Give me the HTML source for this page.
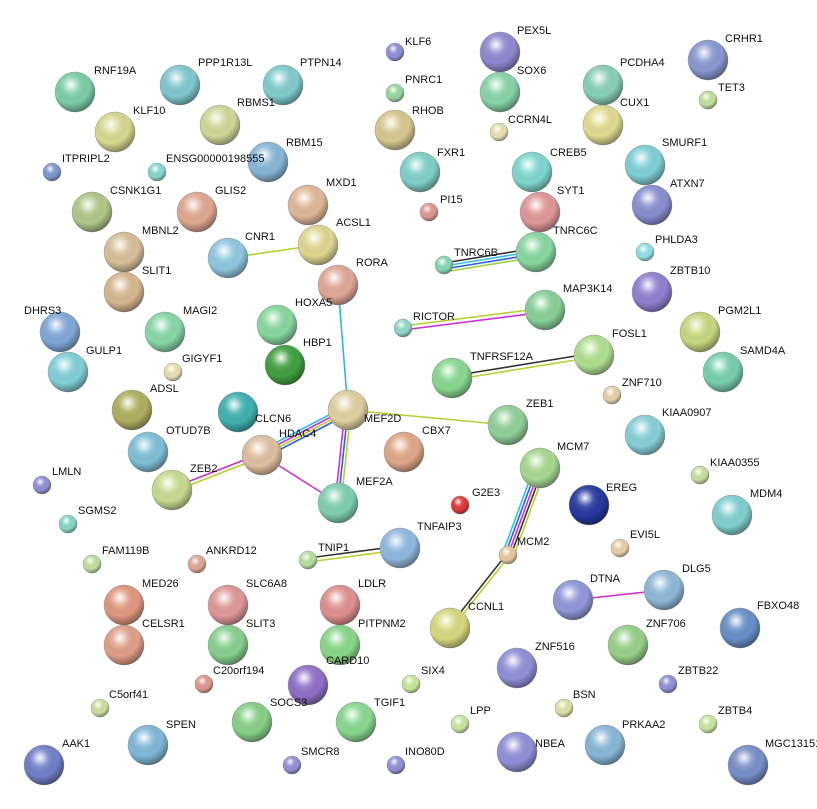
<!DOCTYPE html>
<html><head><meta charset="utf-8"><style>
html,body{margin:0;padding:0;background:#fff}
svg{display:block}
text{font-family:"Liberation Sans",Arial,sans-serif;font-size:11px;fill:#111}
</style></head><body>
<svg width="817" height="809" viewBox="0 0 817 809" xmlns="http://www.w3.org/2000/svg">
<defs>
<radialGradient id="sh" cx="40%" cy="32%" r="70%">
<stop offset="0" stop-color="#fff" stop-opacity="0.95"/>
<stop offset="0.3" stop-color="#fff" stop-opacity="0.15"/>
<stop offset="0.65" stop-color="#000" stop-opacity="0"/>
<stop offset="1" stop-color="#000" stop-opacity="0.4"/>
</radialGradient>
</defs>
<g stroke-width="1.6" fill="none">
<line x1="228" y1="258" x2="318" y2="245" stroke="#b8d030"/>
<line x1="338" y1="285" x2="348" y2="410" stroke="#30b8d0"/>
<line x1="444" y1="263" x2="536" y2="248" stroke="#333"/>
<line x1="444" y1="266" x2="536" y2="251" stroke="#30c0e0"/>
<line x1="444" y1="269" x2="536" y2="254" stroke="#3060e0"/>
<line x1="444" y1="272" x2="536" y2="257" stroke="#a0d040"/>
<line x1="403" y1="326" x2="545" y2="308" stroke="#b8d030"/>
<line x1="403" y1="330" x2="545" y2="312" stroke="#d030d0"/>
<line x1="452" y1="376" x2="594" y2="353" stroke="#333"/>
<line x1="452" y1="380" x2="594" y2="357" stroke="#b8d030"/>
<line x1="348" y1="410" x2="508" y2="425" stroke="#b8d030"/>
<line x1="348" y1="405" x2="262" y2="450" stroke="#30c0e0"/>
<line x1="348" y1="408" x2="262" y2="453" stroke="#d030d0"/>
<line x1="348" y1="411" x2="262" y2="456" stroke="#b8d030"/>
<line x1="348" y1="414" x2="262" y2="459" stroke="#3060e0"/>
<line x1="345" y1="410" x2="335" y2="503" stroke="#d030d0"/>
<line x1="348" y1="410" x2="338" y2="503" stroke="#3060e0"/>
<line x1="351" y1="410" x2="341" y2="503" stroke="#b8d030"/>
<line x1="262" y1="453" x2="172" y2="488" stroke="#d030d0"/>
<line x1="262" y1="457" x2="172" y2="492" stroke="#b8d030"/>
<line x1="262" y1="455" x2="338" y2="503" stroke="#d030d0"/>
<line x1="308" y1="558" x2="400" y2="546" stroke="#333"/>
<line x1="308" y1="562" x2="400" y2="550" stroke="#b8d030"/>
<line x1="534" y1="468" x2="502" y2="555" stroke="#30c0e0"/>
<line x1="537" y1="468" x2="505" y2="555" stroke="#3060e0"/>
<line x1="540" y1="468" x2="508" y2="555" stroke="#d030d0"/>
<line x1="543" y1="468" x2="511" y2="555" stroke="#333"/>
<line x1="546" y1="468" x2="514" y2="555" stroke="#b8d030"/>
<line x1="506" y1="555" x2="448" y2="628" stroke="#333"/>
<line x1="510" y1="555" x2="452" y2="628" stroke="#b8d030"/>
<line x1="573" y1="600" x2="664" y2="590" stroke="#d030d0"/>
</g>
<g stroke="#999" stroke-width="0.5">
<!-- big nodes -->
<circle cx="75" cy="92" r="20" fill="#7ccfa8"/><circle cx="180" cy="85" r="20" fill="#80c8d0"/><circle cx="283" cy="85" r="20" fill="#80cccc"/>
<circle cx="500" cy="52" r="20" fill="#9088d0"/><circle cx="500" cy="92" r="20" fill="#88d4a8"/><circle cx="603" cy="85" r="20" fill="#88d0b8"/>
<circle cx="708" cy="60" r="20" fill="#8898d0"/><circle cx="115" cy="132" r="20" fill="#d8d890"/><circle cx="220" cy="125" r="20" fill="#d0d898"/>
<circle cx="395" cy="130" r="20" fill="#d8c890"/><circle cx="603" cy="125" r="20" fill="#e0dc90"/><circle cx="268" cy="162" r="20" fill="#88b8d8"/>
<circle cx="645" cy="165" r="20" fill="#80d0d8"/><circle cx="420" cy="172" r="20" fill="#80d0c8"/><circle cx="532" cy="172" r="20" fill="#80d8d0"/>
<circle cx="652" cy="205" r="20" fill="#8890d0"/><circle cx="92" cy="212" r="20" fill="#b0c888"/><circle cx="197" cy="212" r="20" fill="#e0a890"/>
<circle cx="308" cy="205" r="20" fill="#e0b898"/><circle cx="540" cy="212" r="20" fill="#e09898"/><circle cx="318" cy="245" r="20" fill="#e0d890"/>
<circle cx="124" cy="252" r="20" fill="#d8c098"/><circle cx="228" cy="258" r="20" fill="#90c8e0"/><circle cx="536" cy="252" r="20" fill="#88d8a0"/>
<circle cx="652" cy="292" r="20" fill="#9080d0"/><circle cx="338" cy="285" r="20" fill="#e0a898"/><circle cx="124" cy="292" r="20" fill="#d8b890"/>
<circle cx="60" cy="332" r="20" fill="#80a8d8"/><circle cx="165" cy="332" r="20" fill="#88d8a8"/><circle cx="277" cy="325" r="20" fill="#88d8a0"/>
<circle cx="545" cy="310" r="20" fill="#88d098"/><circle cx="700" cy="332" r="20" fill="#c8d880"/><circle cx="68" cy="372" r="20" fill="#80d0d8"/>
<circle cx="285" cy="365" r="20" fill="#40a040"/><circle cx="594" cy="355" r="20" fill="#b0e090"/><circle cx="452" cy="378" r="20" fill="#88d890"/>
<circle cx="723" cy="372" r="20" fill="#78d0b0"/><circle cx="132" cy="410" r="20" fill="#b0b060"/><circle cx="238" cy="412" r="20" fill="#40b0b0"/>
<circle cx="348" cy="410" r="20" fill="#e0d0a0"/><circle cx="508" cy="425" r="20" fill="#90d098"/><circle cx="645" cy="435" r="20" fill="#88d0d8"/>
<circle cx="148" cy="452" r="20" fill="#80c0d8"/><circle cx="262" cy="455" r="20" fill="#e0c0a0"/><circle cx="404" cy="452" r="20" fill="#e0a888"/>
<circle cx="540" cy="468" r="20" fill="#a8d890"/><circle cx="172" cy="490" r="20" fill="#c8dc90"/><circle cx="338" cy="503" r="20" fill="#80d0b0"/>
<circle cx="589" cy="505" r="20" fill="#2838a0"/><circle cx="732" cy="515" r="20" fill="#80d0d0"/><circle cx="400" cy="548" r="20" fill="#90b8e0"/>
<circle cx="124" cy="605" r="20" fill="#e09880"/><circle cx="228" cy="605" r="20" fill="#e09898"/><circle cx="340" cy="605" r="20" fill="#e09090"/>
<circle cx="573" cy="600" r="20" fill="#9098d8"/><circle cx="664" cy="590" r="20" fill="#90b8d8"/><circle cx="740" cy="628" r="20" fill="#6890c8"/>
<circle cx="124" cy="645" r="20" fill="#e0a088"/><circle cx="228" cy="645" r="20" fill="#88d090"/><circle cx="340" cy="645" r="20" fill="#88d888"/>
<circle cx="450" cy="628" r="20" fill="#d8d880"/><circle cx="628" cy="645" r="20" fill="#98d088"/><circle cx="517" cy="668" r="20" fill="#9090d8"/>
<circle cx="308" cy="685" r="20" fill="#9070c8"/><circle cx="252" cy="722" r="20" fill="#88d088"/><circle cx="356" cy="722" r="20" fill="#88d890"/>
<circle cx="148" cy="745" r="20" fill="#80b8d8"/><circle cx="44" cy="765" r="20" fill="#7080c8"/><circle cx="517" cy="752" r="20" fill="#9090d8"/>
<circle cx="605" cy="745" r="20" fill="#88b8d8"/><circle cx="748" cy="765" r="20" fill="#7890c8"/>
<!-- small nodes -->
<circle cx="395" cy="52" r="9" fill="#9090d8"/><circle cx="395" cy="93" r="9" fill="#98d8a0"/><circle cx="708" cy="100" r="9" fill="#c0e0a0"/>
<circle cx="499" cy="132" r="9" fill="#e8e0b0"/><circle cx="52" cy="172" r="9" fill="#8098d0"/><circle cx="157" cy="172" r="9" fill="#88d8d0"/>
<circle cx="429" cy="212" r="9" fill="#e09890"/><circle cx="444" cy="265" r="9" fill="#88d8b8"/><circle cx="645" cy="252" r="9" fill="#90e0e8"/>
<circle cx="403" cy="328" r="9" fill="#90d8c8"/><circle cx="173" cy="372" r="9" fill="#e8e0b0"/><circle cx="612" cy="395" r="9" fill="#e8d0a8"/>
<circle cx="700" cy="475" r="9" fill="#c8e0a0"/><circle cx="42" cy="485" r="9" fill="#9090d8"/><circle cx="460" cy="505" r="9" fill="#e03838"/>
<circle cx="68" cy="524" r="9" fill="#88d8c8"/><circle cx="508" cy="555" r="9" fill="#e8c8a0"/><circle cx="620" cy="548" r="9" fill="#e8d0a8"/>
<circle cx="92" cy="564" r="9" fill="#c0e0a0"/><circle cx="197" cy="564" r="9" fill="#e0a898"/><circle cx="308" cy="560" r="9" fill="#b8e0a0"/>
<circle cx="204" cy="684" r="9" fill="#e09890"/><circle cx="411" cy="684" r="9" fill="#c8e898"/><circle cx="668" cy="684" r="9" fill="#9090d8"/>
<circle cx="100" cy="708" r="9" fill="#d0e0a0"/><circle cx="460" cy="724" r="9" fill="#c8e8a0"/><circle cx="564" cy="708" r="9" fill="#e0e0a8"/>
<circle cx="708" cy="724" r="9" fill="#c8e8a0"/><circle cx="292" cy="765" r="9" fill="#9090d8"/><circle cx="396" cy="765" r="9" fill="#9090d8"/>
</g>
<g fill="url(#sh)">
<circle cx="75" cy="92" r="20"/><circle cx="180" cy="85" r="20"/><circle cx="283" cy="85" r="20"/><circle cx="500" cy="52" r="20"/><circle cx="500" cy="92" r="20"/><circle cx="603" cy="85" r="20"/><circle cx="708" cy="60" r="20"/><circle cx="115" cy="132" r="20"/><circle cx="220" cy="125" r="20"/><circle cx="395" cy="130" r="20"/><circle cx="603" cy="125" r="20"/><circle cx="268" cy="162" r="20"/><circle cx="645" cy="165" r="20"/><circle cx="420" cy="172" r="20"/><circle cx="532" cy="172" r="20"/><circle cx="652" cy="205" r="20"/><circle cx="92" cy="212" r="20"/><circle cx="197" cy="212" r="20"/><circle cx="308" cy="205" r="20"/><circle cx="540" cy="212" r="20"/><circle cx="318" cy="245" r="20"/><circle cx="124" cy="252" r="20"/><circle cx="228" cy="258" r="20"/><circle cx="536" cy="252" r="20"/><circle cx="652" cy="292" r="20"/><circle cx="338" cy="285" r="20"/><circle cx="124" cy="292" r="20"/><circle cx="60" cy="332" r="20"/><circle cx="165" cy="332" r="20"/><circle cx="277" cy="325" r="20"/><circle cx="545" cy="310" r="20"/><circle cx="700" cy="332" r="20"/><circle cx="68" cy="372" r="20"/><circle cx="285" cy="365" r="20"/><circle cx="594" cy="355" r="20"/><circle cx="452" cy="378" r="20"/><circle cx="723" cy="372" r="20"/><circle cx="132" cy="410" r="20"/><circle cx="238" cy="412" r="20"/><circle cx="348" cy="410" r="20"/><circle cx="508" cy="425" r="20"/><circle cx="645" cy="435" r="20"/><circle cx="148" cy="452" r="20"/><circle cx="262" cy="455" r="20"/><circle cx="404" cy="452" r="20"/><circle cx="540" cy="468" r="20"/><circle cx="172" cy="490" r="20"/><circle cx="338" cy="503" r="20"/><circle cx="589" cy="505" r="20"/><circle cx="732" cy="515" r="20"/><circle cx="400" cy="548" r="20"/><circle cx="124" cy="605" r="20"/><circle cx="228" cy="605" r="20"/><circle cx="340" cy="605" r="20"/><circle cx="573" cy="600" r="20"/><circle cx="664" cy="590" r="20"/><circle cx="740" cy="628" r="20"/><circle cx="124" cy="645" r="20"/><circle cx="228" cy="645" r="20"/><circle cx="340" cy="645" r="20"/><circle cx="450" cy="628" r="20"/><circle cx="628" cy="645" r="20"/><circle cx="517" cy="668" r="20"/><circle cx="308" cy="685" r="20"/><circle cx="252" cy="722" r="20"/><circle cx="356" cy="722" r="20"/><circle cx="148" cy="745" r="20"/><circle cx="44" cy="765" r="20"/><circle cx="517" cy="752" r="20"/><circle cx="605" cy="745" r="20"/><circle cx="748" cy="765" r="20"/>
<circle cx="395" cy="52" r="9"/><circle cx="395" cy="93" r="9"/><circle cx="708" cy="100" r="9"/><circle cx="499" cy="132" r="9"/><circle cx="52" cy="172" r="9"/><circle cx="157" cy="172" r="9"/><circle cx="429" cy="212" r="9"/><circle cx="444" cy="265" r="9"/><circle cx="645" cy="252" r="9"/><circle cx="403" cy="328" r="9"/><circle cx="173" cy="372" r="9"/><circle cx="612" cy="395" r="9"/><circle cx="700" cy="475" r="9"/><circle cx="42" cy="485" r="9"/><circle cx="460" cy="505" r="9"/><circle cx="68" cy="524" r="9"/><circle cx="508" cy="555" r="9"/><circle cx="620" cy="548" r="9"/><circle cx="92" cy="564" r="9"/><circle cx="197" cy="564" r="9"/><circle cx="308" cy="560" r="9"/><circle cx="204" cy="684" r="9"/><circle cx="411" cy="684" r="9"/><circle cx="668" cy="684" r="9"/><circle cx="100" cy="708" r="9"/><circle cx="460" cy="724" r="9"/><circle cx="564" cy="708" r="9"/><circle cx="708" cy="724" r="9"/><circle cx="292" cy="765" r="9"/><circle cx="396" cy="765" r="9"/>
</g>
<g>
<text x="94" y="74">RNF19A</text><text x="198" y="66">PPP1R13L</text><text x="300" y="66">PTPN14</text><text x="405" y="45">KLF6</text>
<text x="517" y="34">PEX5L</text><text x="517" y="74">SOX6</text><text x="405" y="83">PNRC1</text><text x="620" y="66">PCDHA4</text>
<text x="725" y="42">CRHR1</text><text x="718" y="91">TET3</text><text x="133" y="114">KLF10</text><text x="237" y="106">RBMS1</text>
<text x="412" y="114">RHOB</text><text x="508" y="123">CCRN4L</text><text x="620" y="106">CUX1</text><text x="286" y="146">RBM15</text>
<text x="662" y="146">SMURF1</text><text x="62" y="162">ITPRIPL2</text><text x="166" y="162">ENSG00000198555</text><text x="437" y="156">FXR1</text>
<text x="550" y="156">CREB5</text><text x="440" y="203">PI15</text><text x="670" y="187">ATXN7</text><text x="110" y="194">CSNK1G1</text>
<text x="215" y="194">GLIS2</text><text x="326" y="186">MXD1</text><text x="557" y="194">SYT1</text><text x="336" y="226">ACSL1</text>
<text x="142" y="234">MBNL2</text><text x="245" y="240">CNR1</text><text x="553" y="234">TNRC6C</text><text x="454" y="256">TNRC6B</text>
<text x="655" y="243">PHLDA3</text><text x="670" y="274">ZBTB10</text><text x="356" y="266">RORA</text><text x="142" y="274">SLIT1</text>
<text x="24" y="314">DHRS3</text><text x="183" y="314">MAGI2</text><text x="295" y="306">HOXA5</text><text x="413" y="320">RICTOR</text>
<text x="563" y="292">MAP3K14</text><text x="718" y="314">PGM2L1</text><text x="86" y="354">GULP1</text><text x="182" y="362">GIGYF1</text>
<text x="303" y="346">HBP1</text><text x="612" y="337">FOSL1</text><text x="470" y="360">TNFRSF12A</text><text x="740" y="354">SAMD4A</text>
<text x="622" y="386">ZNF710</text><text x="150" y="392">ADSL</text><text x="255" y="422">CLCN6</text><text x="364" y="422">MEF2D</text>
<text x="526" y="407">ZEB1</text><text x="662" y="416">KIAA0907</text><text x="166" y="434">OTUD7B</text><text x="279" y="437">HDAC4</text>
<text x="422" y="434">CBX7</text><text x="557" y="450">MCM7</text><text x="710" y="466">KIAA0355</text><text x="52" y="475">LMLN</text>
<text x="190" y="472">ZEB2</text><text x="356" y="485">MEF2A</text><text x="472" y="496">G2E3</text><text x="606" y="491">EREG</text>
<text x="750" y="497">MDM4</text><text x="78" y="514">SGMS2</text><text x="417" y="530">TNFAIP3</text><text x="517" y="545">MCM2</text>
<text x="630" y="538">EVI5L</text><text x="102" y="554">FAM119B</text><text x="206" y="554">ANKRD12</text><text x="318" y="551">TNIP1</text>
<text x="142" y="587">MED26</text><text x="246" y="587">SLC6A8</text><text x="358" y="587">LDLR</text><text x="590" y="582">DTNA</text>
<text x="682" y="572">DLG5</text><text x="757" y="609">FBXO48</text><text x="142" y="627">CELSR1</text><text x="246" y="627">SLIT3</text>
<text x="358" y="627">PITPNM2</text><text x="468" y="610">CCNL1</text><text x="646" y="627">ZNF706</text><text x="535" y="650">ZNF516</text>
<text x="326" y="664">CARD10</text><text x="213" y="674">C20orf194</text><text x="421" y="674">SIX4</text><text x="678" y="674">ZBTB22</text>
<text x="109" y="698">C5orf41</text><text x="270" y="706">SOCS3</text><text x="374" y="706">TGIF1</text><text x="470" y="714">LPP</text>
<text x="573" y="698">BSN</text><text x="718" y="714">ZBTB4</text><text x="166" y="728">SPEN</text><text x="62" y="747">AAK1</text>
<text x="301" y="755">SMCR8</text><text x="405" y="755">INO80D</text><text x="535" y="747">NBEA</text><text x="622" y="728">PRKAA2</text>
<text x="765" y="747">MGC13151</text>
</g>
</svg>
</body></html>
